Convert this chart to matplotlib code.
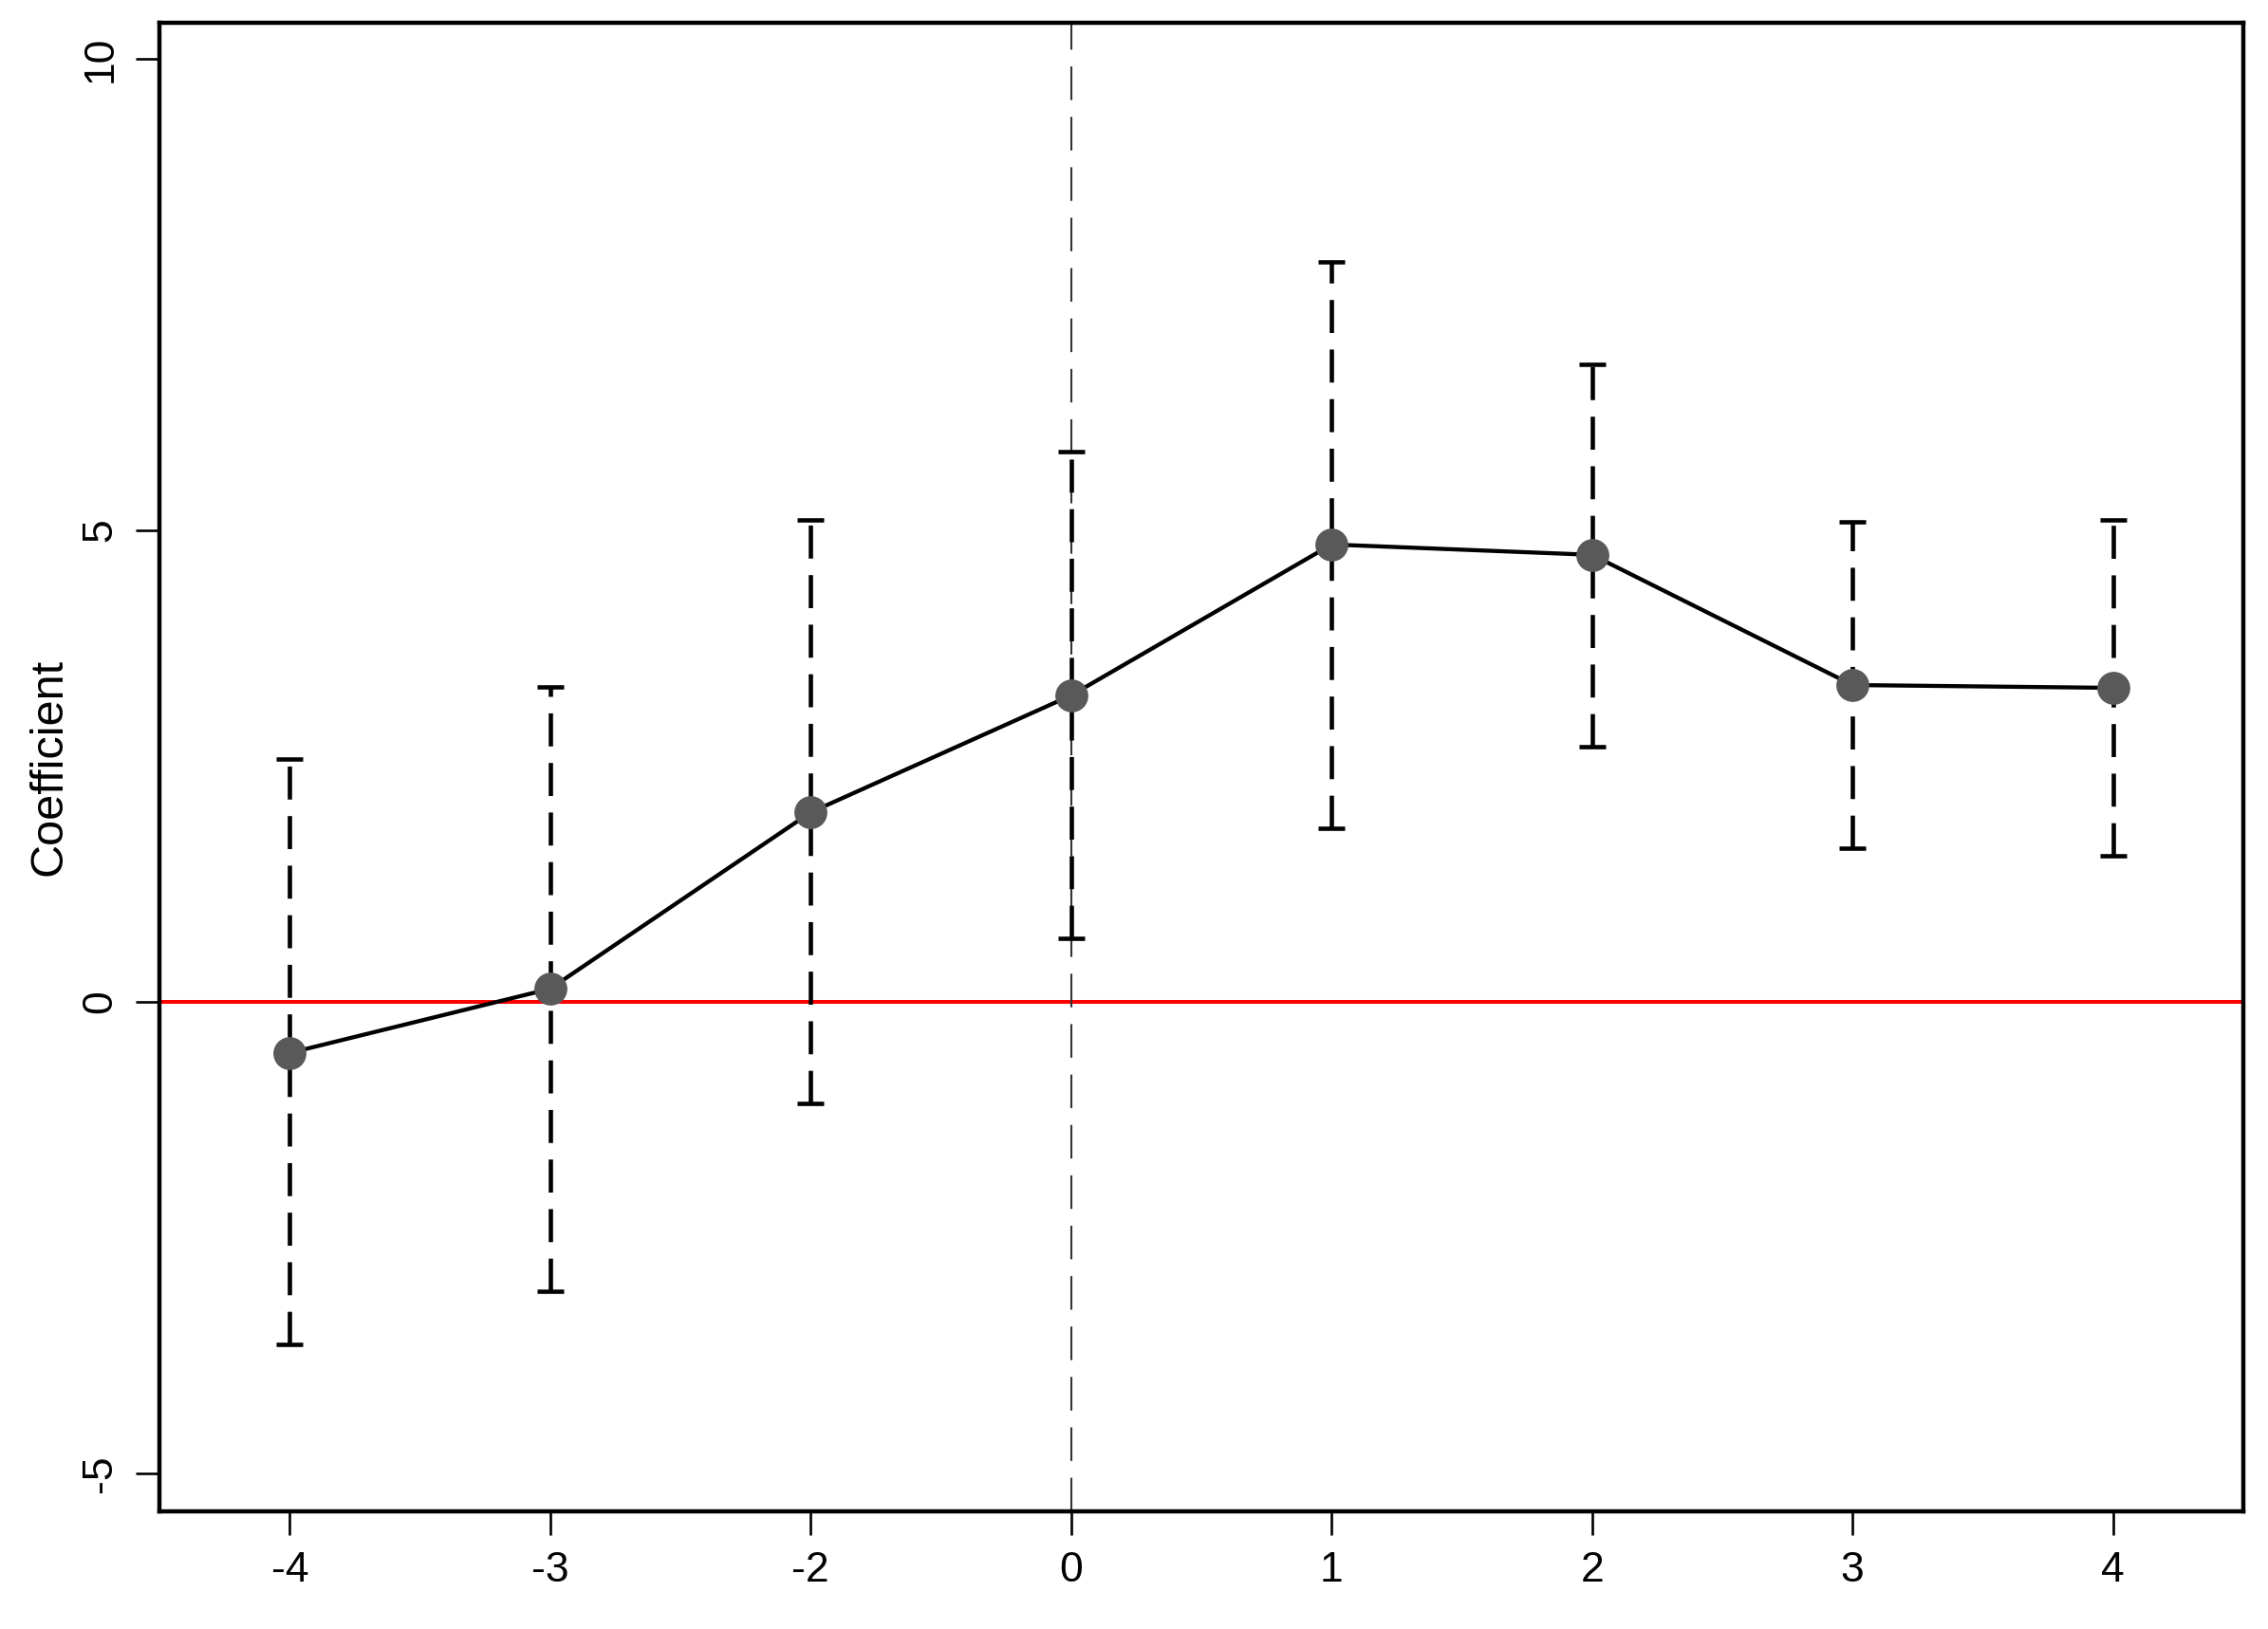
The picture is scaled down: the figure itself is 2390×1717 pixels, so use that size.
import numpy as np
import matplotlib.pyplot as plt

plt.rcParams['font.family'] = ['Liberation Sans', 'DejaVu Sans']
plt.rcParams['axes.unicode_minus'] = False

labels = ['-4', '-3', '-2', '0', '1', '2', '3', '4']
coef = [-0.54, 0.14, 2.01, 3.25, 4.85, 4.74, 3.36, 3.33]
upper = [2.58, 3.34, 5.11, 5.83, 7.85, 6.76, 5.09, 5.11]
lower = [-3.63, -3.07, -1.07, 0.67, 1.84, 2.71, 1.63, 1.55]

x = np.arange(1, len(labels) + 1)
coef = np.array(coef)
err = [coef - np.array(lower), np.array(upper) - coef]

fig = plt.figure(figsize=(23.9, 17.17), dpi=100)
ax = fig.add_axes([0.0703, 0.0722, 0.9188, 0.9138])

# reference lines
ax.axhline(0, color='red', lw=2.9, zorder=1)
ax.axvline(4, color='#333333', lw=1.5, linestyle=(0, (17, 8.5)), zorder=1)

# confidence intervals
eb = ax.errorbar(x, coef, yerr=err, fmt='none', ecolor='black', elinewidth=3.3,
                 capsize=10, capthick=3.3, zorder=2)
eb[2][0].set_linestyle((0, (7.6, 3.8)))

ax.plot(x, coef, color='black', lw=3.1, zorder=3)
ax.plot(x, coef, 'o', color='#595959', ms=24, zorder=4)

ax.set_xlim(0.5, 8.5)
ax.set_ylim(-5.4, 10.38)
ax.set_xticks(x, labels=labels)
ax.set_yticks([-5, 0, 5, 10])
for lab in ax.get_yticklabels():
    lab.set_rotation(90)
    lab.set_va('center')
ax.tick_params(axis='both', length=18, width=1.9, labelsize=32, pad=12)
ax.tick_params(axis='y', pad=12)
for s in ax.spines.values():
    s.set_linewidth(3.2)

ax.set_ylabel('Coefficient', fontsize=35, labelpad=8)

fig.savefig('out.png', dpi=100)
